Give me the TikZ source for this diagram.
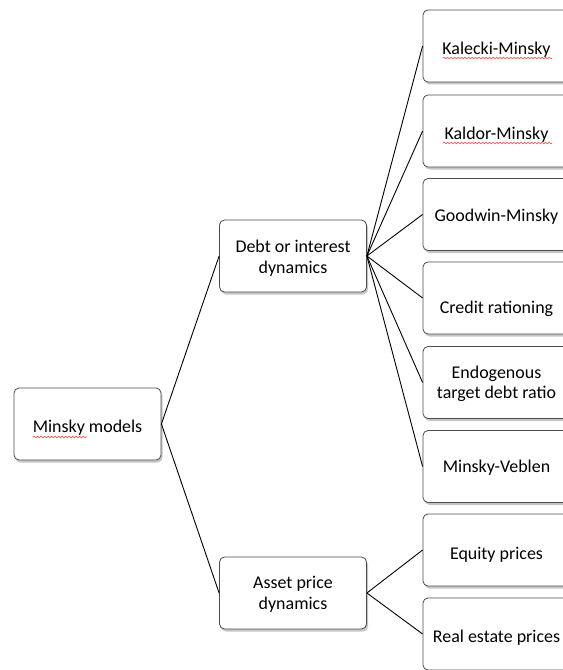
\documentclass[tikz,border=0pt]{standalone}
\usepackage{fontspec}
\setmainfont{Carlito}
\usetikzlibrary{shadows,decorations.pathmorphing}
\newcommand{\dn}[2]{\raisebox{-#1}[\height][\depth]{\begin{tabular}{@{}c@{}}#2\end{tabular}}}
\begin{document}
\begin{tikzpicture}[x=1bp,y=-1bp,
  box/.style={draw=gray!60!black, line width=0.8bp, rounded corners=5bp, fill=white,
    minimum width=147bp, minimum height=72bp, align=center,
    font=\fontsize{18}{20.5}\selectfont, inner sep=2pt,
    drop shadow={shadow xshift=1.5bp, shadow yshift=-2.5bp, opacity=0.45, fill=gray}},
  link/.style={line width=0.9bp, black},
  squig/.style={red!75, line width=0.6bp, decorate,
    decoration={snake, amplitude=0.8bp, segment length=3.5bp}}]
\useasboundingbox (0,0) rectangle (563,670);
\clip (0,0) rectangle (563,670);

\node[box] (m) at (87.5,424) {\dn{4bp}{Minsky models}};
\node[box] (d) at (293,256) {\dn{3bp}{Debt or interest\\dynamics}};
\node[box] (a) at (293,593) {\dn{2bp}{Asset price\\dynamics}};

\node[box] (k1) at (496.5,46) {\dn{4bp}{Kalecki-Minsky}};
\node[box] (k2) at (496.5,131) {\dn{4bp}{Kaldor-Minsky}};
\node[box] (k3) at (496.5,214.5) {\dn{3bp}{Goodwin-Minsky}};
\node[box] (k4) at (496.5,298) {\dn{11bp}{Credit rationing}};
\node[box] (k5) at (496.5,382.5) {\dn{2bp}{Endogenous\\target debt ratio}};
\node[box] (k6) at (496.5,466.5) {\dn{2bp}{Minsky-Veblen}};
\node[box] (e1) at (496.5,550) {\dn{5bp}{Equity prices}};
\node[box] (e2) at (496.5,634) {\dn{4bp}{Real estate prices}};

\draw[link] (m.east) -- (d.west);
\draw[link] (m.east) -- (a.west);
\foreach \t in {k1,k2,k3,k4,k5,k6} \draw[link] (d.east) -- (\t.west);
\foreach \t in {e1,e2} \draw[link] (a.east) -- (\t.west);

\draw[squig] (33,437) -- (87,437);
\draw[squig] (443,58) -- (552,58);
\draw[squig] (443,143) -- (552,143);
\end{tikzpicture}
\end{document}
